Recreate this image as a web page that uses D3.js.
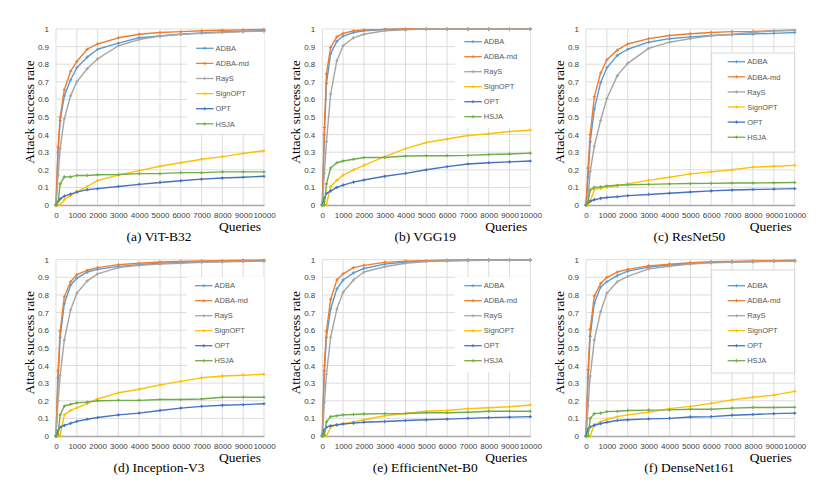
<!DOCTYPE html>
<html><head><meta charset="utf-8">
<script src="https://cdn.jsdelivr.net/npm/d3@7"></script>
<style>body{margin:0;background:#fff}svg{display:block}</style>
</head><body>
<svg id="c" width="830" height="495"></svg>
<script>
// ---- data ----
const queries = [0,100,200,400,700,1000,1500,2000,3000,4000,5000,6000,7000,8000,9000,10000];
const seriesNames = ["ADBA","ADBA-md","RayS","SignOPT","OPT","HSJA"];
const xTicks = [0,1000,2000,3000,4000,5000,6000,7000,8000,9000,10000];
const yTicks = [0,0.1,0.2,0.3,0.4,0.5,0.6,0.7,0.8,0.9,1];
const panelTitles = ["(a) ViT-B32","(b) VGG19","(c) ResNet50","(d) Inception-V3","(e) EfficientNet-B0","(f) DenseNet161"];

// (a) ViT-B32
const vit_ADBA    = [0,0.30,0.48,0.62,0.71,0.78,0.84,0.885,0.92,0.95,0.96,0.97,0.978,0.983,0.987,0.99];
const vit_ADBAmd  = [0,0.33,0.50,0.655,0.76,0.815,0.885,0.915,0.95,0.97,0.98,0.985,0.99,0.993,0.995,0.998];
const vit_RayS    = [0,0.17,0.32,0.49,0.62,0.70,0.775,0.83,0.905,0.94,0.96,0.97,0.975,0.98,0.985,0.988];
const vit_SignOPT = [0,0,0,0.03,0.055,0.075,0.105,0.14,0.17,0.195,0.22,0.24,0.26,0.275,0.293,0.308];
const vit_OPT     = [0,0.02,0.035,0.05,0.062,0.073,0.087,0.093,0.105,0.117,0.128,0.138,0.147,0.153,0.158,0.163];
const vit_HSJA    = [0,0.02,0.12,0.16,0.16,0.168,0.168,0.172,0.173,0.178,0.178,0.184,0.184,0.188,0.188,0.188];
// (b) VGG19
const vgg_ADBA    = [0,0.40,0.69,0.86,0.93,0.96,0.98,0.99,0.997,1,1,1,1,1,1,1];
const vgg_ADBAmd  = [0,0.44,0.745,0.895,0.955,0.975,0.99,0.995,0.998,1,1,1,1,1,1,1];
const vgg_RayS    = [0,0.18,0.36,0.63,0.82,0.905,0.95,0.97,0.99,0.995,1,1,1,1,1,1];
const vgg_SignOPT = [0,0,0,0.105,0.14,0.17,0.20,0.225,0.275,0.32,0.355,0.375,0.395,0.405,0.418,0.425];
const vgg_OPT     = [0,0.04,0.065,0.08,0.10,0.113,0.13,0.142,0.163,0.18,0.20,0.218,0.233,0.24,0.245,0.25];
const vgg_HSJA    = [0,0,0.12,0.21,0.24,0.25,0.26,0.27,0.27,0.278,0.28,0.28,0.282,0.287,0.29,0.295];
// (c) ResNet50
const res_ADBA    = [0,0.16,0.36,0.545,0.695,0.78,0.85,0.885,0.925,0.945,0.955,0.963,0.968,0.972,0.975,0.98];
const res_ADBAmd  = [0,0.21,0.40,0.615,0.75,0.825,0.88,0.915,0.945,0.963,0.973,0.98,0.985,0.986,0.99,0.993];
const res_RayS    = [0,0.05,0.19,0.335,0.48,0.605,0.735,0.805,0.89,0.925,0.945,0.962,0.97,0.98,0.99,0.993];
const res_SignOPT = [0,0,0.02,0.088,0.095,0.10,0.11,0.12,0.14,0.158,0.177,0.188,0.20,0.215,0.22,0.225];
const res_OPT     = [0,0.015,0.022,0.03,0.038,0.043,0.047,0.053,0.06,0.067,0.074,0.08,0.085,0.088,0.09,0.093];
const res_HSJA    = [0,0.02,0.085,0.10,0.103,0.108,0.112,0.115,0.117,0.12,0.122,0.123,0.125,0.125,0.126,0.128];
// (d) Inception-V3
const inc_ADBA    = [0,0.33,0.56,0.75,0.855,0.895,0.93,0.945,0.962,0.972,0.98,0.985,0.988,0.99,0.992,0.994];
const inc_ADBAmd  = [0,0.37,0.595,0.79,0.875,0.915,0.94,0.955,0.972,0.98,0.987,0.99,0.993,0.995,0.997,0.998];
const inc_RayS    = [0,0.20,0.345,0.545,0.715,0.81,0.88,0.92,0.955,0.968,0.975,0.98,0.985,0.988,0.99,0.992];
const inc_SignOPT = [0,0,0,0.12,0.145,0.16,0.185,0.21,0.245,0.265,0.29,0.31,0.33,0.34,0.345,0.35];
const inc_OPT     = [0,0.03,0.05,0.06,0.072,0.083,0.095,0.105,0.12,0.13,0.145,0.158,0.168,0.174,0.178,0.183];
const inc_HSJA    = [0,0.01,0.12,0.17,0.18,0.188,0.192,0.20,0.202,0.202,0.207,0.207,0.21,0.22,0.22,0.22];
// (e) EfficientNet-B0
const eff_ADBA    = [0,0.37,0.56,0.72,0.835,0.885,0.925,0.95,0.975,0.987,0.992,0.995,0.997,0.998,0.998,0.998];
const eff_ADBAmd  = [0,0.40,0.595,0.775,0.885,0.92,0.955,0.968,0.985,0.992,0.995,0.998,0.999,1,1,1];
const eff_RayS    = [0,0.19,0.35,0.56,0.72,0.815,0.885,0.93,0.96,0.98,0.99,0.993,0.995,0.997,0.997,0.997];
const eff_SignOPT = [0,0,0,0.05,0.063,0.07,0.08,0.092,0.115,0.128,0.14,0.145,0.155,0.16,0.166,0.176];
const eff_OPT     = [0,0.035,0.05,0.058,0.063,0.068,0.073,0.078,0.082,0.088,0.092,0.096,0.10,0.104,0.107,0.11];
const eff_HSJA    = [0,0.005,0.08,0.11,0.115,0.12,0.122,0.125,0.127,0.128,0.132,0.132,0.135,0.14,0.14,0.14];
// (f) DenseNet161
const den_ADBA    = [0,0.33,0.565,0.755,0.845,0.875,0.91,0.935,0.958,0.97,0.978,0.985,0.988,0.99,0.992,0.993];
const den_ADBAmd  = [0,0.375,0.605,0.795,0.865,0.90,0.93,0.945,0.965,0.975,0.983,0.988,0.99,0.993,0.995,0.997];
const den_RayS    = [0,0.17,0.34,0.545,0.705,0.81,0.875,0.905,0.948,0.963,0.975,0.982,0.985,0.988,0.99,0.992];
const den_SignOPT = [0,0,0,0.065,0.08,0.095,0.11,0.12,0.135,0.155,0.168,0.185,0.205,0.22,0.232,0.253];
const den_OPT     = [0,0.04,0.052,0.06,0.07,0.078,0.088,0.092,0.097,0.10,0.108,0.11,0.118,0.122,0.127,0.13];
const den_HSJA    = [0,0,0.10,0.127,0.13,0.138,0.14,0.145,0.147,0.148,0.152,0.152,0.158,0.162,0.162,0.163];

const panelData = [
  [vit_ADBA,vit_ADBAmd,vit_RayS,vit_SignOPT,vit_OPT,vit_HSJA],
  [vgg_ADBA,vgg_ADBAmd,vgg_RayS,vgg_SignOPT,vgg_OPT,vgg_HSJA],
  [res_ADBA,res_ADBAmd,res_RayS,res_SignOPT,res_OPT,res_HSJA],
  [inc_ADBA,inc_ADBAmd,inc_RayS,inc_SignOPT,inc_OPT,inc_HSJA],
  [eff_ADBA,eff_ADBAmd,eff_RayS,eff_SignOPT,eff_OPT,eff_HSJA],
  [den_ADBA,den_ADBAmd,den_RayS,den_SignOPT,den_OPT,den_HSJA]
];

// ---- styles / layout ----
const colors = ["#5B9BD5","#ED7D31","#A5A5A5","#FFC000","#4472C4","#70AD47"];
const layouts = [
  {l:56,  r:264,   t:29,    b:205, leg:{x:196,  y:48.3, step:15.1, box:[187,34,77,100], border:false}},
  {l:322.3,r:530.3,t:29,    b:205, leg:{x:464.3,y:41.7, step:15.0, box:[455,32,75,96],  border:false}},
  {l:586, r:794.7, t:29,    b:205, leg:{x:727.7,y:61.7, step:15.1, box:[711.7,53,83,99], border:true}},
  {l:56,  r:264,   t:259.7, b:436, leg:{x:195,  y:285.7,step:15.0, box:[187,277,77,95], border:false}},
  {l:322.3,r:530.3,t:259.7, b:436, leg:{x:464.3,y:285.7,step:15.0, box:[455,277,75,95], border:false}},
  {l:586, r:794.7, t:259.7, b:436, leg:{x:727.7,y:285.7,step:15.0, box:[711.7,270,83,103], border:true}}
];

const svg = d3.select("#c");
const sans = "'Liberation Sans', Arial, sans-serif";
const serif = "'Liberation Serif', 'Times New Roman', serif";

layouts.forEach((L, pi) => {
  const g = svg.append("g");
  const x = d3.scaleLinear().domain([0,10000]).range([L.l, L.r]);
  const y = d3.scaleLinear().domain([0,1]).range([L.b, L.t]);

  // gridlines
  g.append("g").selectAll("line.v").data(xTicks).join("line")
    .attr("x1", d=>x(d)).attr("x2", d=>x(d)).attr("y1", L.t).attr("y2", L.b)
    .attr("stroke", "#D9D9D9").attr("stroke-width", 0.9);
  g.append("g").selectAll("line.h").data(yTicks.filter(d=>d>0)).join("line")
    .attr("x1", L.l).attr("x2", L.r).attr("y1", d=>y(d)).attr("y2", d=>y(d))
    .attr("stroke", "#D9D9D9").attr("stroke-width", 0.9);

  // x axis (bottom) with labels
  const xAxis = d3.axisBottom(x).tickValues(xTicks).tickSize(0).tickPadding(7).tickFormat(d3.format("d"));
  const xa = g.append("g").attr("transform", `translate(0,${L.b})`).call(xAxis);
  xa.select(".domain").attr("stroke", "#A6A6A6").attr("stroke-width", 1.3);
  xa.selectAll("text").attr("font-family", sans).attr("font-size", 8).attr("fill", "#404040");

  // y axis labels
  const yAxis = d3.axisLeft(y).tickValues(yTicks).tickSize(0).tickPadding(7).tickFormat(d => d === 0 ? "0" : (d === 1 ? "1" : d3.format(".1f")(d)));
  const ya = g.append("g").attr("transform", `translate(${L.l},0)`).call(yAxis);
  ya.select(".domain").remove();
  ya.selectAll("text").attr("font-family", sans).attr("font-size", 8).attr("fill", "#404040");

  // legend background box (covers grid)
  const bx = L.leg.box;
  g.append("rect").attr("x", bx[0]).attr("y", bx[1]).attr("width", bx[2]).attr("height", bx[3])
    .attr("fill", "#fff").attr("stroke", L.leg.border ? "#D0D0D0" : "none").attr("stroke-width", 0.8);

  // series
  const line = d3.line().x((d,i)=>x(queries[i])).y(d=>y(d));
  panelData[pi].forEach((vals, si) => {
    g.append("path").datum(vals).attr("d", line)
      .attr("fill", "none").attr("stroke", colors[si]).attr("stroke-width", 1.4).attr("stroke-linejoin", "round");
    g.append("g").selectAll("path").data(vals).join("path")
      .attr("d", (d,i)=>`M${x(queries[i])-1.6},${y(d)}h3.2M${x(queries[i])},${y(d)-1.6}v3.2`)
      .attr("stroke", colors[si]).attr("stroke-width", 1.1);
  });

  // legend entries
  seriesNames.forEach((name, si) => {
    const yy = L.leg.y + si * L.leg.step;
    g.append("line").attr("x1", L.leg.x).attr("x2", L.leg.x + 17.5).attr("y1", yy).attr("y2", yy)
      .attr("stroke", colors[si]).attr("stroke-width", 1.3);
    g.append("path").attr("d", `M${L.leg.x+8.75-1.6},${yy}h3.2M${L.leg.x+8.75},${yy-1.6}v3.2`)
      .attr("stroke", colors[si]).attr("stroke-width", 1);
    g.append("text").attr("x", L.leg.x + 19.5).attr("y", yy + 2.7).text(name)
      .attr("font-family", sans).attr("font-size", 7.5).attr("fill", "#595959");
  });

  // axis titles
  const cy = (L.t + L.b) / 2 - 5;
  g.append("text").attr("transform", `translate(${L.l - 27},${cy}) rotate(-90)`)
    .attr("text-anchor", "middle").attr("dy", "0.35em")
    .attr("font-family", serif).attr("font-size", 13.5).attr("fill", "#000").text("Attack success rate");
  g.append("text").attr("x", L.r - 3).attr("y", L.b + 25.5).attr("text-anchor", "end")
    .attr("font-family", serif).attr("font-size", 13.5).attr("fill", "#000").text("Queries");
  g.append("text").attr("x", (L.l + L.r) / 2 - 1).attr("y", L.b + 35.5).attr("text-anchor", "middle")
    .attr("font-family", serif).attr("font-size", 13.5).attr("fill", "#000").text(panelTitles[pi]);
});
</script>
</body></html>
